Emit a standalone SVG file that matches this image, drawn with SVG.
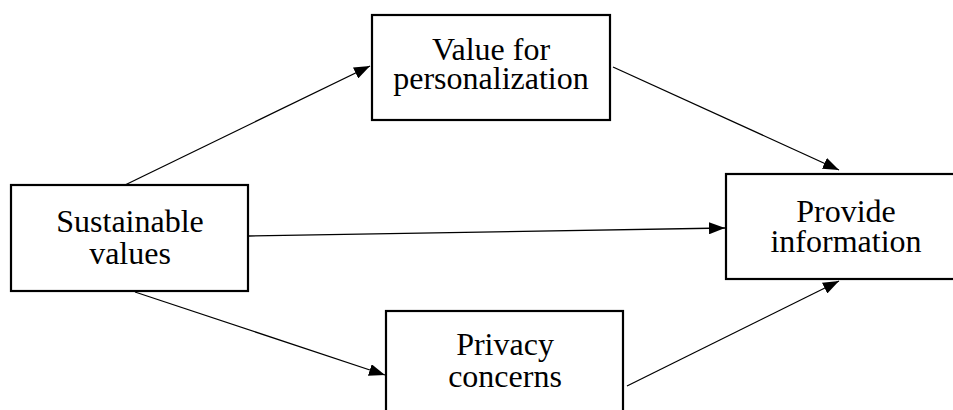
<svg xmlns="http://www.w3.org/2000/svg" width="953" height="410" viewBox="0 0 953 410">
  <defs>
    <marker id="arrow" viewBox="0 0 16 12" refX="16" refY="6" markerWidth="16" markerHeight="12" markerUnits="userSpaceOnUse" orient="auto">
      <path d="M0,0 L16,6 L0,12 Z" fill="#000"/>
    </marker>
  </defs>
  <style>
    .box { fill: #fff; stroke: #000; stroke-width: 2.2; }
    .label { font-family: "Liberation Serif", "Times New Roman", serif; font-size: 32px; fill: #000; text-anchor: middle; }
    .edge { stroke: #000; stroke-width: 1.3; fill: none; marker-end: url(#arrow); }
  </style>
  <rect width="953" height="410" fill="#fff"/>

  <g id="connectors">
    <line class="edge" x1="125" y1="185" x2="370" y2="66"/>
    <line class="edge" x1="613" y1="67" x2="839" y2="170"/>
    <line class="edge" x1="249" y1="236" x2="725" y2="228"/>
    <line class="edge" x1="135" y1="292" x2="385" y2="375"/>
    <line class="edge" x1="627" y1="386" x2="839" y2="281"/>
  </g>

  <g id="sustainable-values">
    <rect class="box" x="11" y="185" width="237" height="106"/>
    <text class="label" x="130" y="232">Sustainable</text>
    <text class="label" x="130" y="264">values</text>
  </g>

  <g id="value-for-personalization">
    <rect class="box" x="372" y="15" width="238" height="105"/>
    <text class="label" x="491" y="60">Value for</text>
    <text class="label" x="491" y="89">personalization</text>
  </g>

  <g id="privacy-concerns">
    <rect class="box" x="386" y="311" width="237" height="110"/>
    <text class="label" x="505" y="355">Privacy</text>
    <text class="label" x="505" y="387">concerns</text>
  </g>

  <g id="provide-information">
    <rect class="box" x="726" y="174" width="240" height="105"/>
    <text class="label" x="846" y="222">Provide</text>
    <text class="label" x="846" y="252">information</text>
  </g>
</svg>
